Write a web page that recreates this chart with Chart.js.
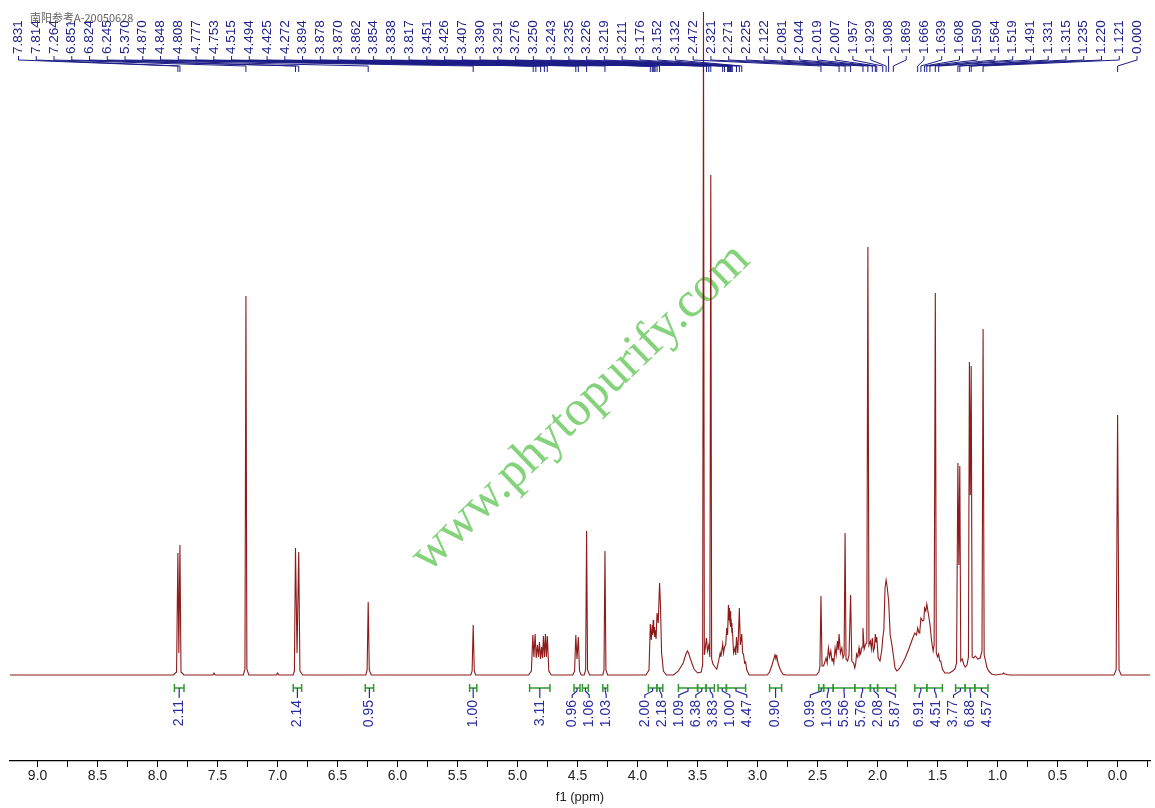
<!DOCTYPE html>
<html>
<head>
<meta charset="utf-8">
<script src="https://cdn.jsdelivr.net/npm/chart.js@4/dist/chart.umd.min.js"></script>
<style>
  html, body { margin: 0; padding: 0; background: #fff; }
  canvas { display: block; }
</style>
</head>
<body>
<canvas id="nmr" width="1155" height="808" style="width:1155px;height:808px"></canvas>
<script>
// 1H NMR trace, [ppm, intensity] (baseline = 0)
const aromaticTrace = [
  [9.23, 0], [7.87, 0], [7.842, 3], [7.831, 122], [7.823, 22], [7.814, 130], [7.805, 3], [7.78, 0],
  [7.54, 0], [7.53, 2], [7.52, 0],
  [7.285, 0], [7.272, 6], [7.264, 379], [7.256, 6], [7.24, 0],
  [7.01, 0], [7.0, 2], [6.99, 0],
  [6.87, 0], [6.86, 4], [6.851, 127], [6.838, 22], [6.824, 123], [6.814, 4], [6.79, 0],
  [6.265, 0], [6.254, 5], [6.245, 73], [6.236, 5], [6.22, 0],
  [5.39, 0], [5.379, 4], [5.370, 50], [5.361, 4], [5.35, 0]
];

const midTrace = [
  [4.91, 0], [4.885, 4], [4.873, 40], [4.864, 18], [4.854, 41], [4.845, 17], [4.835, 30], [4.826, 18],
  [4.818, 33], [4.809, 16], [4.800, 28], [4.792, 17], [4.785, 39], [4.776, 18], [4.768, 41], [4.760, 18],
  [4.752, 39], [4.740, 4], [4.72, 0],
  [4.54, 0], [4.525, 4], [4.515, 40], [4.505, 16], [4.494, 38], [4.484, 4], [4.47, 0],
  [4.445, 0], [4.433, 5], [4.425, 144], [4.417, 5], [4.40, 0],
  [4.29, 0], [4.28, 5], [4.272, 124], [4.264, 5], [4.25, 0]
];

const oxyTrace = [
  [3.93, 0], [3.905, 5], [3.894, 51], [3.886, 35], [3.878, 50], [3.874, 40], [3.870, 55], [3.866, 42],
  [3.862, 48], [3.858, 38], [3.854, 45], [3.846, 36], [3.838, 62], [3.828, 52], [3.817, 92], [3.810, 72],
  [3.800, 22], [3.785, 4], [3.76, 0],
  [3.70, 0], [3.66, 4], [3.62, 12], [3.60, 20], [3.585, 24], [3.575, 22], [3.56, 16], [3.53, 6], [3.50, 2],
  [3.47, 3], [3.458, 10], [3.451, 663], [3.444, 20], [3.435, 28], [3.426, 37], [3.418, 24], [3.407, 30],
  [3.398, 18], [3.390, 500], [3.383, 16], [3.372, 11], [3.355, 8], [3.34, 6],
  [3.325, 14], [3.312, 22], [3.306, 18], [3.291, 31], [3.284, 22], [3.276, 28], [3.266, 30], [3.257, 47],
  [3.250, 40], [3.243, 70], [3.238, 55], [3.235, 67], [3.230, 52], [3.226, 64], [3.222, 48], [3.219, 52],
  [3.214, 42], [3.211, 47], [3.200, 22], [3.188, 27], [3.182, 20], [3.176, 38], [3.165, 22], [3.152, 67],
  [3.144, 30], [3.132, 41], [3.125, 22], [3.118, 21], [3.108, 12], [3.10, 13], [3.09, 5], [3.07, 0],
  [2.92, 0], [2.90, 3], [2.88, 10], [2.865, 16], [2.855, 20], [2.848, 17], [2.84, 19], [2.83, 12],
  [2.81, 5], [2.79, 1], [2.77, 0]
];

const aliphaticTrace = [
  [2.51, 0], [2.49, 3], [2.481, 8], [2.472, 79], [2.463, 9], [2.45, 9], [2.429, 17], [2.42, 12],
  [2.41, 27], [2.40, 18], [2.39, 24], [2.38, 14], [2.373, 17], [2.365, 12], [2.354, 27], [2.345, 20],
  [2.335, 34], [2.328, 25], [2.321, 41], [2.31, 22], [2.298, 27], [2.288, 17], [2.279, 20], [2.271, 142],
  [2.263, 16], [2.25, 14], [2.238, 20], [2.225, 80], [2.215, 14], [2.200, 12], [2.19, 7], [2.182, 12],
  [2.175, 21], [2.165, 18], [2.155, 27], [2.148, 20], [2.14, 22], [2.13, 28], [2.122, 47], [2.112, 26],
  [2.10, 31], [2.09, 32], [2.081, 428], [2.072, 30], [2.06, 34], [2.052, 26], [2.044, 37], [2.035, 24],
  [2.027, 27], [2.019, 41], [2.013, 33], [2.007, 38], [1.995, 17], [1.98, 14], [1.965, 25], [1.957, 37],
  [1.948, 45], [1.938, 87], [1.929, 95], [1.920, 88], [1.908, 74], [1.895, 40], [1.882, 31], [1.869, 20],
  [1.855, 7], [1.84, 4], [1.82, 6], [1.80, 10], [1.77, 17], [1.74, 26], [1.71, 36], [1.69, 42],
  [1.676, 40], [1.666, 47], [1.655, 42], [1.648, 44], [1.639, 57], [1.625, 54], [1.615, 55], [1.608, 67],
  [1.598, 64], [1.590, 71], [1.578, 62], [1.564, 51], [1.55, 34], [1.537, 24], [1.529, 30], [1.519, 382],
  [1.511, 22], [1.50, 18], [1.491, 21], [1.482, 14], [1.474, 14], [1.46, 6], [1.44, 2], [1.40, 2],
  [1.375, 4], [1.355, 6], [1.342, 12], [1.331, 212], [1.323, 110], [1.315, 209], [1.307, 14], [1.295, 16],
  [1.28, 10], [1.27, 8], [1.255, 10], [1.243, 18], [1.235, 313], [1.228, 180], [1.220, 309], [1.212, 18],
  [1.20, 17], [1.185, 19], [1.165, 16], [1.145, 17], [1.13, 24], [1.121, 346], [1.112, 20], [1.10, 14],
  [1.09, 8], [1.075, 4], [1.05, 1], [1.02, 0], [0.96, 1], [0.95, 2], [0.94, 1], [0.90, 0]
];

const tmsTrace = [
  [0.03, 0], [0.012, 5], [0.0, 260], [-0.012, 5], [-0.03, 0], [-0.27, 0]
];

// picked peaks shown across the top
const peakLabels = [
  7.831, 7.814, 7.264, 6.851, 6.824, 6.245, 5.370, 4.870, 4.848, 4.808, 4.777, 4.753, 4.515, 4.494,
  4.425, 4.272, 3.894, 3.878, 3.870, 3.862, 3.854, 3.838, 3.817, 3.451, 3.426, 3.407, 3.390, 3.291,
  3.276, 3.250, 3.243, 3.235, 3.226, 3.219, 3.211, 3.176, 3.152, 3.132, 2.472, 2.321, 2.271, 2.225,
  2.122, 2.081, 2.044, 2.019, 2.007, 1.957, 1.929, 1.908, 1.869, 1.666, 1.639, 1.608, 1.590, 1.564,
  1.519, 1.491, 1.331, 1.315, 1.235, 1.220, 1.121, 0.000
];

// integration regions (ppm) and their values
const integralFrom = [7.86, 6.87, 6.27, 5.40, 4.90, 4.53, 4.46, 4.29, 3.91, 3.84, 3.66, 3.50, 3.43, 3.33,
  3.26, 2.90, 2.49, 2.45, 2.37, 2.19, 2.06, 2.00, 1.69, 1.59, 1.35, 1.27, 1.19];
const integralTo = [7.78, 6.80, 6.20, 5.34, 4.73, 4.48, 4.41, 4.25, 3.84, 3.79, 3.50, 3.43, 3.36, 3.26,
  3.10, 2.80, 2.45, 2.37, 2.19, 2.06, 2.00, 1.85, 1.59, 1.46, 1.27, 1.19, 1.08];
const integralValues = ['2.11', '2.14', '0.95', '1.00', '3.11', '0.96', '1.06', '1.03', '2.00', '2.18',
  '1.09', '6.38', '3.83', '1.00', '4.47', '0.90', '0.99', '1.03', '5.56', '5.76', '2.08', '5.87',
  '6.91', '4.51', '3.77', '6.88', '4.57'];

// x axis ticks every 0.25 ppm, labelled every 0.5
const axisTicks = [];
for (let v = -0.25; v <= 9.0001; v += 0.25) axisTicks.push(Math.round(v * 100) / 100);

const sampleId = '南阳参考A-20050628';
const watermark = 'www.phytopurify.com';

const tracePoints = [...aromaticTrace, ...midTrace, ...oxyTrace, ...aliphaticTrace, ...tmsTrace]
  .map(([x, y]) => ({ x, y }));

const PEAK_COLOR = '#1c1c86';
const INT_LABEL_COLOR = '#2a2aa0';
const INT_BAR_COLOR = '#2f9a2f';

// Spread crowded labels apart, keeping each cluster centred on its peaks
function spreadLabels(centers, gap) {
  const groups = centers.map((c) => ({ n: 1, mean: c }));
  let changed = true;
  while (changed) {
    changed = false;
    for (let g = 0; g < groups.length - 1; g++) {
      const a = groups[g];
      const b = groups[g + 1];
      const aEnd = a.mean + (a.n - 1) * gap / 2;
      const bStart = b.mean - (b.n - 1) * gap / 2;
      if (bStart - aEnd < gap) {
        const n = a.n + b.n;
        a.mean = (a.mean * a.n + b.mean * b.n) / n;
        a.n = n;
        groups.splice(g + 1, 1);
        changed = true;
        break;
      }
    }
  }
  const out = [];
  groups.forEach((g) => {
    for (let k = 0; k < g.n; k++) out.push(g.mean - (g.n - 1) * gap / 2 + k * gap);
  });
  return out;
}

const nmrDecor = {
  id: 'nmrDecor',
  beforeDatasetsDraw(chart) {
    const { ctx } = chart;
    ctx.save();
    ctx.translate(581, 408);
    ctx.rotate(-43.9 * Math.PI / 180);
    ctx.font = '50px "Liberation Serif", "DejaVu Serif", serif';
    ctx.fillStyle = '#84d27a';
    ctx.textAlign = 'center';
    ctx.textBaseline = 'middle';
    ctx.fillText(watermark, 0, 0);
    ctx.restore();
  },
  afterDraw(chart) {
    const { ctx } = chart;
    const xs = chart.scales.x;

    // peak labels along the top
    const first = 18.5;
    const last = 1137;
    const step = (last - first) / (peakLabels.length - 1);
    ctx.save();
    ctx.strokeStyle = PEAK_COLOR;
    ctx.lineWidth = 1;
    ctx.fillStyle = PEAK_COLOR;
    ctx.font = '13.5px "Liberation Sans", Arial, sans-serif';
    peakLabels.forEach((ppm, i) => {
      const lx = first + i * step;
      const px = xs.getPixelForValue(ppm);
      ctx.save();
      ctx.translate(lx, 54);
      ctx.rotate(-Math.PI / 2);
      ctx.textAlign = 'left';
      ctx.textBaseline = 'middle';
      ctx.fillText(ppm.toFixed(3), 0, 0);
      ctx.restore();
      ctx.beginPath();
      ctx.moveTo(lx, 56);
      ctx.lineTo(lx, 60);
      ctx.lineTo(px, 66);
      ctx.lineTo(px, 72);
      ctx.stroke();
    });
    ctx.restore();

    // integrals below the baseline
    const centers = integralFrom.map((f, i) =>
      (xs.getPixelForValue(f) + xs.getPixelForValue(integralTo[i])) / 2);
    const labelX = spreadLabels(centers, 17);
    const barY = 688;
    ctx.save();
    integralFrom.forEach((f, i) => {
      const x1 = xs.getPixelForValue(f);
      const x2 = xs.getPixelForValue(integralTo[i]);
      ctx.strokeStyle = INT_BAR_COLOR;
      ctx.lineWidth = 1.5;
      ctx.beginPath();
      ctx.moveTo(x1, barY);
      ctx.lineTo(x2, barY);
      ctx.moveTo(x1, barY - 4);
      ctx.lineTo(x1, barY + 4);
      ctx.moveTo(x2, barY - 4);
      ctx.lineTo(x2, barY + 4);
      ctx.stroke();

      const cx = centers[i];
      const lx = labelX[i];
      ctx.strokeStyle = INT_LABEL_COLOR;
      ctx.lineWidth = 1.2;
      ctx.beginPath();
      ctx.moveTo(cx, barY);
      ctx.lineTo(cx, barY + 3);
      ctx.lineTo(lx, barY + 7);
      ctx.lineTo(lx, barY + 10);
      ctx.stroke();

      ctx.save();
      ctx.translate(lx, barY + 12);
      ctx.rotate(-Math.PI / 2);
      ctx.fillStyle = INT_LABEL_COLOR;
      ctx.font = '14px "Liberation Sans", Arial, sans-serif';
      ctx.textAlign = 'right';
      ctx.textBaseline = 'middle';
      ctx.fillText(integralValues[i], 0, 0);
      ctx.restore();
    });
    ctx.restore();

    // sample id in the corner
    ctx.save();
    ctx.font = '11px "Noto Sans CJK SC", sans-serif';
    ctx.fillStyle = 'rgba(70, 70, 70, 0.85)';
    ctx.textAlign = 'left';
    ctx.textBaseline = 'middle';
    ctx.fillText(sampleId, 30, 18);
    ctx.restore();
  }
};

const canvas = document.getElementById('nmr');
new Chart(canvas, {
  type: 'line',
  data: {
    datasets: [{
      data: tracePoints,
      borderColor: '#8e1a1a',
      borderWidth: 1.1,
      pointRadius: 0,
      tension: 0,
      fill: false
    }]
  },
  options: {
    responsive: false,
    animation: false,
    events: [],
    layout: { padding: { left: 10, right: 5, top: 0, bottom: 0 } },
    plugins: {
      legend: { display: false },
      tooltip: { enabled: false }
    },
    scales: {
      x: {
        type: 'linear',
        reverse: true,
        min: -0.27,
        max: 9.23,
        afterBuildTicks(scale) {
          scale.ticks = axisTicks.map((v) => ({ value: v }));
        },
        afterFit(scale) {
          scale.height = 47;
        },
        ticks: {
          autoSkip: false,
          maxRotation: 0,
          padding: 1,
          color: '#222',
          font: { family: '"Liberation Sans", Arial, sans-serif', size: 14 },
          callback(value) {
            const twice = value * 2;
            if (value >= 0 && Math.abs(twice - Math.round(twice)) < 1e-6) return value.toFixed(1);
            return '';
          }
        },
        grid: {
          drawOnChartArea: false,
          drawTicks: true,
          tickLength: 6,
          tickColor: '#000'
        },
        border: { display: true, color: '#000', width: 1.2 },
        title: {
          display: true,
          text: 'f1 (ppm)',
          color: '#222',
          font: { family: '"Liberation Sans", Arial, sans-serif', size: 13 },
          padding: { top: 0, bottom: 3 }
        }
      },
      y: {
        display: false,
        min: -86,
        max: 675
      }
    }
  },
  plugins: [nmrDecor]
});
</script>
</body>
</html>
